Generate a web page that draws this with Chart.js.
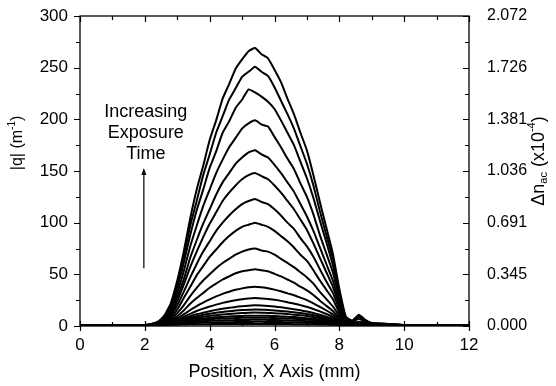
<!DOCTYPE html>
<html>
<head>
<meta charset="utf-8">
<script src="https://cdn.jsdelivr.net/npm/chart.js@4.4.1/dist/chart.umd.min.js"></script>
<style>
  html, body { margin: 0; padding: 0; background: #fff; }
  #wrap { width: 556px; height: 386px; }
</style>
</head>
<body>
<div id="wrap"><canvas id="qChart" width="556" height="386"></canvas></div>
<script>
// posisi sepanjang sumbu X (mm)
const positions = [0, 1, 1.5, 2.0, 2.2, 2.4, 2.6, 2.8, 3.0, 3.2, 3.4, 3.6, 3.8, 4.0, 4.2, 4.4, 4.6, 4.8, 5.0, 5.2, 5.4,
  5.6, 5.8, 6.0, 6.2, 6.4, 6.6, 6.8, 7.0, 7.2, 7.4, 7.6, 7.8, 8.0, 8.2, 8.4, 8.6, 8.8, 9.0, 9.5, 10, 11, 12];

// |q| (1/m) per waktu paparan, dari yang terbesar ke terkecil
const q270 = [0.5,0.6,0.8,1.0,2,4,10,22,44,72,104,132,155,180,199,220,234,249,258,266,269,263,259,248,236,220,205,187,170,146,120,95,70,36,9,5,11,6,3,2,1,0.5,0.3];
const q251 = [0.5,0.6,0.8,1.0,2,4,9,20,41,67,97,121,146,166,187,203,219,230,241,246,251,246,242,231,218,205,191,174,157,136,111,88,65,33,8,5,10,5,3,2,1,0.5,0.3];
const q229 = [0.5,0.6,0.8,1.0,1.6,3.4,8,18,37,61,88,112,132,153,169,187,198,211,219,229,226,222,217,210,199,187,175,159,143,124,102,81,59,30,8,4,9,5,2.5,1.8,1,0.5,0.3];
const q199 = [0.5,0.6,0.8,1.0,1.4,3,7,16,32,53,77,97,116,132,148,161,173,182,191,196,199,195,193,183,173,162,152,138,125,108,88,70,52,27,7,4,7,4,2.2,1.6,1,0.5,0.3];
const q170 = [0.5,0.6,0.8,1.0,1.2,2.6,6,14,28,45,66,83,99,113,127,139,148,157,163,168,170,166,163,156,148,139,130,118,106,92,76,60,44,23,6,3,4,3,1.8,1.4,1,0.5,0.3];
const q148 = [0.5,0.6,0.8,1.0,1,2.2,5.5,12,24,40,57,72,86,99,110,121,129,136,142,146,148,145,142,136,129,121,113,103,93,80,66,52,38,20,5,2.5,2.5,2,1.5,1.2,0.9,0.5,0.3];
const q123 = [0.5,0.6,0.8,1.0,0.9,1.8,4.6,10,20,33,47,60,72,82,92,100,107,113,118,121,123,120,118,113,107,100,94,85,77,67,55,43,32,16,4,2,2,1.6,1.3,1,0.8,0.5,0.3];
const q100 = [0.5,0.6,0.8,1.0,0.8,1.5,3.7,8,16,27,38,49,58,67,74,81,87,92,96,98,100,98,96,92,87,82,76,69,63,54,44,35,26,13,3.3,1.9,1.8,1.4,1.2,1,0.8,0.5,0.3];
const q75 = [0.5,0.6,0.8,1.0,0.8,1.4,3,6.5,12.5,20,29,37,44,50,56,61,65,69,72,74,75,73,72,69,65,61,57,52,47,41,33,26,19,10,2.5,1.6,1.4,1.2,1,0.9,0.7,0.5,0.3];
const q55 = [0.5,0.6,0.8,1.0,0.8,1.3,2.6,5.2,9.5,15,21.5,27,32,37,41,45,48,51,53,54,55,54,53,50.5,48,45,42,38,34.5,30,24.5,19.5,14.5,7.5,2,1.4,1.2,1.1,0.9,0.8,0.7,0.5,0.3];
const q38 = [0.4,0.5,0.7,0.9,0.7,1.2,2.3,4.3,7.5,11.2,15.5,19.3,22.7,25.8,28.6,31.1,33.2,35,36.4,37.4,38,37.4,36.6,35.2,33.6,31.6,29.8,27.4,25,22,18.5,15,11.3,6.2,2,1.3,1.1,1,0.9,0.8,0.6,0.4,0.3];
const q27 = [0.4,0.5,0.7,0.9,0.7,1.1,2,3.6,6,8.8,11.8,14.5,16.8,18.9,20.7,22.4,23.8,25,25.9,26.6,27,26.7,26.2,25.3,24.3,23,21.8,20.2,18.6,16.5,14.1,11.6,8.9,5.2,1.8,1.2,1,0.9,0.8,0.7,0.6,0.4,0.3];
const q20 = [0.4,0.5,0.6,0.8,0.7,1,1.8,3.2,5.1,7.3,9.4,11.3,12.9,14.3,15.6,16.7,17.6,18.5,19.1,19.6,20,19.8,19.4,18.8,18.1,17.2,16.3,15.2,14,12.6,10.9,9.1,7.1,4.3,1.6,1.1,1,0.9,0.8,0.7,0.6,0.4,0.3];
const q16 = [0.4,0.5,0.6,0.8,0.7,1,1.7,2.9,4.5,6.3,8,9.5,10.8,11.9,12.8,13.6,14.3,14.9,15.4,15.7,16,15.8,15.5,15.1,14.6,14,13.3,12.5,11.6,10.5,9.2,7.8,6.1,3.8,1.5,1,0.9,0.8,0.7,0.6,0.5,0.4,0.3];
const q13 = [0.4,0.5,0.6,0.7,0.7,1,1.6,2.7,4.1,5.5,6.8,8,9,9.8,10.5,11.1,11.6,12.1,12.5,12.8,13,12.9,12.7,12.4,12,11.5,11,10.4,9.7,8.8,7.8,6.6,5.2,3.3,1.4,0.9,0.8,0.7,0.6,0.6,0.5,0.4,0.3];
const q10 = [0.4,0.5,0.6,0.7,0.7,1,1.6,2.6,3.8,4.9,5.8,6.6,7.3,7.9,8.4,8.8,9.2,9.5,9.7,9.9,10,9.9,9.8,9.6,9.3,9,8.6,8.1,7.6,7,6.2,5.3,4.3,2.8,1.3,0.9,0.8,0.7,0.6,0.5,0.5,0.4,0.3];
const q8 = [0.4,0.5,0.6,0.6,0.6,0.9,1.5,2.4,3.4,4.3,5,5.6,6.1,6.5,6.9,7.2,7.5,7.7,7.9,8,8,8,7.9,7.7,7.5,7.3,7,6.6,6.2,5.7,5.1,4.4,3.6,2.4,1.2,0.8,0.7,0.6,0.6,0.5,0.5,0.4,0.3];
const q6 = [0.4,0.5,0.6,0.6,0.6,0.9,1.4,2.1,2.9,3.5,4,4.4,4.7,5,5.2,5.4,5.6,5.7,5.8,5.9,6,6,5.9,5.8,5.6,5.5,5.3,5,4.7,4.3,3.9,3.4,2.8,1.9,1,0.7,0.6,0.6,0.5,0.5,0.4,0.4,0.3];
const q4 = [0.4,0.5,0.5,0.6,0.6,0.8,1.2,1.7,2.2,2.6,2.9,3.1,3.3,3.4,3.5,3.6,3.7,3.8,3.9,3.9,4,4,3.9,3.9,3.8,3.7,3.6,3.4,3.2,3,2.7,2.4,2,1.5,0.9,0.7,0.6,0.5,0.5,0.5,0.4,0.4,0.3];
const q2 = [0.4,0.4,0.5,0.5,0.6,0.7,0.9,1.1,1.3,1.5,1.6,1.7,1.8,1.8,1.9,1.9,2,2,2,2,2,2,2,2,1.9,1.9,1.8,1.8,1.7,1.6,1.5,1.4,1.2,1,0.7,0.6,0.5,0.5,0.4,0.4,0.4,0.3,0.3];

const curves = [q270, q251, q229, q199, q170, q148, q123, q100, q75, q55, q38, q27, q20, q16, q13, q10, q8, q6, q4, q2];

// label sumbu
const xTicks = [0, 2, 4, 6, 8, 10, 12];
const yTicks = [0, 50, 100, 150, 200, 250, 300];
const dnTickValues = [0, 0.345, 0.691, 1.036, 1.381, 1.726, 2.072];
const dnTickLabels = ['0.000', '0.345', '0.691', '1.036', '1.381', '1.726', '2.072'];

const FONT = '"Liberation Sans", Arial, sans-serif';

// tulis teks berurutan dengan sub/superskrip, dipusatkan di (0,0)
function drawRich(c, parts) {
  let total = 0;
  parts.forEach(p => { c.font = p[1] + 'px ' + FONT; total += c.measureText(p[0]).width; });
  let xx = -total / 2;
  parts.forEach(p => {
    c.font = p[1] + 'px ' + FONT;
    c.fillText(p[0], xx, p[2]);
    xx += c.measureText(p[0]).width;
  });
}

// gambar bingkai, tick kecil, judul sumbu dan panah anotasi
const framePlugin = {
  id: 'frame',
  afterDraw(chart) {
    const c = chart.ctx;
    const a = chart.chartArea;
    const sx = chart.scales.x, sy = chart.scales.y, sy2 = chart.scales.y2;
    c.save();
    c.strokeStyle = '#000';
    c.lineWidth = 1.3;
    c.strokeRect(a.left, a.top, a.right - a.left, a.bottom - a.top);

    c.beginPath();
    // sumbu X: mayor keluar di bawah, minor ke dalam, atas ke dalam
    for (let v = 0; v <= 12; v++) {
      const px = Math.round(sx.getPixelForValue(v)) + 0.5;
      const major = v % 2 === 0;
      if (major) {
        c.moveTo(px, a.bottom); c.lineTo(px, a.bottom + 5);
      }
      c.moveTo(px, a.bottom); c.lineTo(px, a.bottom - (major ? 5 : 4));
      c.moveTo(px, a.top); c.lineTo(px, a.top + (major ? 6 : 4));
    }
    // sumbu Y kiri
    for (let v = 0; v <= 300; v += 25) {
      const py = Math.round(sy.getPixelForValue(v)) + 0.5;
      const major = v % 50 === 0;
      c.moveTo(a.left, py); c.lineTo(a.left - (major ? 6 : 4), py);
    }
    // sumbu Y kanan (ke dalam)
    for (let i = 0; i < dnTickValues.length; i++) {
      const py = Math.round(sy2.getPixelForValue(dnTickValues[i])) + 0.5;
      c.moveTo(a.right, py); c.lineTo(a.right - 6, py);
      if (i < dnTickValues.length - 1) {
        const pm = Math.round(sy2.getPixelForValue((dnTickValues[i] + dnTickValues[i + 1]) / 2)) + 0.5;
        c.moveTo(a.right, pm); c.lineTo(a.right - 4, pm);
      }
    }
    c.lineWidth = 1.2;
    c.stroke();

    c.fillStyle = '#000';
    // judul sumbu X
    c.font = '18px ' + FONT;
    c.textAlign = 'center';
    c.textBaseline = 'middle';
    c.fillText('Position, X Axis (mm)', (a.left + a.right) / 2, 372);

    // judul kiri |q| (m^-1)
    c.save();
    c.translate(18, 143);
    c.rotate(-Math.PI / 2);
    c.textAlign = 'left';
    drawRich(c, [['|q| (m', 16, 0], ['-1', 10, -6], [')', 16, 0]]);
    c.restore();

    // judul kanan Δn_ac (x10^-4)
    c.save();
    c.translate(539, 161);
    c.rotate(-Math.PI / 2);
    c.textAlign = 'left';
    drawRich(c, [['\u0394n', 18, 0], ['ac', 11, 5], [' (x10', 18, 0], ['-4', 11, -7], [')', 18, 0]]);
    c.restore();

    // anotasi "Increasing Exposure Time" dan panah
    const ax = sx.getPixelForValue(1.97);
    c.font = '18px ' + FONT;
    c.textAlign = 'center';
    c.fillText('Increasing', ax + 2, sy.getPixelForValue(207));
    c.fillText('Exposure', ax + 2, sy.getPixelForValue(186.5));
    c.fillText('Time', ax + 2, sy.getPixelForValue(166));
    const yTail = sy.getPixelForValue(56), yHead = sy.getPixelForValue(153);
    c.beginPath();
    c.lineWidth = 1.2;
    c.moveTo(ax, yTail); c.lineTo(ax, yHead + 5);
    c.stroke();
    c.beginPath();
    c.moveTo(ax, yHead);
    c.lineTo(ax - 2.5, yHead + 7);
    c.lineTo(ax + 2.5, yHead + 7);
    c.closePath();
    c.fill();
    c.restore();
  }
};

const datasets = curves.map(vals => ({
  data: vals.map((v, i) => ({ x: positions[i], y: v })),
  borderColor: '#000',
  borderWidth: 2,
  pointRadius: 0,
  tension: 0.15,
  fill: false
}));

const tickFont = { family: FONT, size: 17 };
const noGrid = { display: false, drawTicks: false };

// label sumbu Y tidak boleh mendorong area plot ke bawah
function fixVertical(width) {
  return s => { s.width = width; s.paddingTop = 0; s.paddingBottom = 0; };
}

new Chart(document.getElementById('qChart'), {
  type: 'line',
  data: { datasets: datasets },
  options: {
    responsive: false,
    animation: false,
    events: [],
    layout: { padding: { top: 16, left: 0, right: 0, bottom: 0 } },
    plugins: { legend: { display: false }, tooltip: { enabled: false } },
    scales: {
      x: {
        type: 'linear',
        min: 0, max: 12,
        afterBuildTicks: s => { s.ticks = xTicks.map(v => ({ value: v })); },
        ticks: { color: '#000', font: tickFont, padding: 9, maxRotation: 0 },
        grid: noGrid,
        border: { display: false },
        afterFit: s => { s.height = 60; }
      },
      y: {
        position: 'left',
        min: 0, max: 300,
        afterBuildTicks: s => { s.ticks = yTicks.map(v => ({ value: v })); },
        ticks: { color: '#000', font: tickFont, padding: 12 },
        grid: noGrid,
        border: { display: false },
        afterFit: fixVertical(80)
      },
      y2: {
        position: 'right',
        min: 0, max: 2.072,
        afterBuildTicks: s => { s.ticks = dnTickValues.map(v => ({ value: v })); },
        ticks: {
          color: '#000', font: { family: FONT, size: 16 }, padding: 18,
          callback: (v, i) => dnTickLabels[i]
        },
        grid: noGrid,
        border: { display: false },
        afterFit: fixVertical(87)
      }
    }
  },
  plugins: [framePlugin]
});
</script>
</body>
</html>
